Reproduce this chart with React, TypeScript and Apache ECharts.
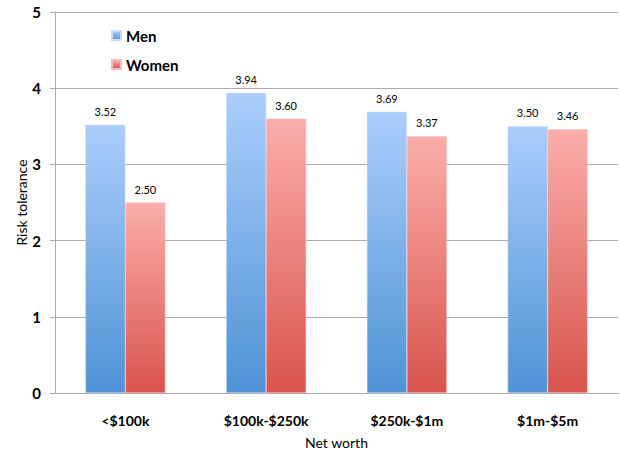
import React, { useEffect, useRef } from "react";
import * as echarts from "echarts";

const categories = ["<$100k", "$100k-$250k", "$250k-$1m", "$1m-$5m"];
const menValues = [3.52, 3.94, 3.69, 3.5];
const womenValues = [2.5, 3.6, 3.37, 3.46];
const yTicks = [0, 1, 2, 3, 4, 5];

const FONT = "Lato, 'Open Sans', sans-serif";

export default function App() {
  const ref = useRef<HTMLDivElement>(null);
  useEffect(() => {
    if (!ref.current) return;
    const chart = echarts.init(ref.current, null, { renderer: "svg" });
    const menGrad = new echarts.graphic.LinearGradient(0, 0, 0, 1, [
      { offset: 0, color: "#abcdfb" },
      { offset: 1, color: "#4f93d6" },
    ]);
    const womenGrad = new echarts.graphic.LinearGradient(0, 0, 0, 1, [
      { offset: 0, color: "#fbaeab" },
      { offset: 1, color: "#d9534d" },
    ]);
    chart.setOption({
      animation: false,
      textStyle: { fontFamily: FONT },
      grid: { left: 55, right: 2, top: 12, bottom: 60 },
      legend: {
        orient: "vertical",
        left: 106,
        top: 23,
        itemWidth: 9,
        itemHeight: 9,
        itemGap: 14,
        icon: "rect",
        textStyle: { fontSize: 15, fontWeight: "bold", color: "#000", fontFamily: FONT },
        data: [
          { name: "Men", itemStyle: { color: menGrad } },
          { name: "Women", itemStyle: { color: womenGrad } },
        ],
      },
      xAxis: {
        type: "category",
        data: categories,
        name: "Net worth",
        nameLocation: "middle",
        nameGap: 42,
        nameMoveOverlap: false,
        nameTextStyle: { fontSize: 14, color: "#000", fontFamily: FONT },
        axisLine: { lineStyle: { color: "#aaaaaa" } },
        axisTick: { show: false },
        axisLabel: { fontSize: 14, fontWeight: "bold", color: "#000", margin: 20, fontFamily: FONT },
      },
      yAxis: {
        type: "value",
        min: yTicks[0],
        max: yTicks[yTicks.length - 1],
        interval: 1,
        name: "Risk tolerance",
        nameLocation: "middle",
        nameGap: 27,
        nameMoveOverlap: false,
        nameTextStyle: { fontSize: 14, color: "#000", fontFamily: FONT },
        axisLine: { show: true, lineStyle: { color: "#aaaaaa" } },
        axisTick: { show: true, length: 5, lineStyle: { color: "#aaaaaa" } },
        axisLabel: { fontSize: 15, fontWeight: "bold", color: "#000", margin: 14, fontFamily: FONT },
        splitLine: { lineStyle: { color: "#aaaaaa" } },
      },
      series: [
        {
          name: "Men",
          type: "bar",
          data: menValues,
          barWidth: 40,
          barGap: "0%",
          itemStyle: { color: menGrad, borderColor: "#c9dcf5", borderWidth: 0.5 },
          label: {
            show: true,
            position: "top",
            distance: 8,
            formatter: (p: any) => p.value.toFixed(2),
            fontSize: 11,
            color: "#000",
            fontFamily: FONT,
          },
        },
        {
          name: "Women",
          type: "bar",
          data: womenValues,
          barWidth: 40,
          barGap: "0%",
          itemStyle: { color: womenGrad, borderColor: "#f0c0bf", borderWidth: 0.5 },
          label: {
            show: true,
            position: "top",
            distance: 8,
            formatter: (p: any) => p.value.toFixed(2),
            fontSize: 11,
            color: "#000",
            fontFamily: FONT,
          },
        },
      ],
    });
    return () => chart.dispose();
  }, []);
  return (
    <div
      ref={ref}
      style={{ position: "fixed", left: 0, top: 0, width: 620, height: 454, background: "#fff" }}
    />
  );
}
